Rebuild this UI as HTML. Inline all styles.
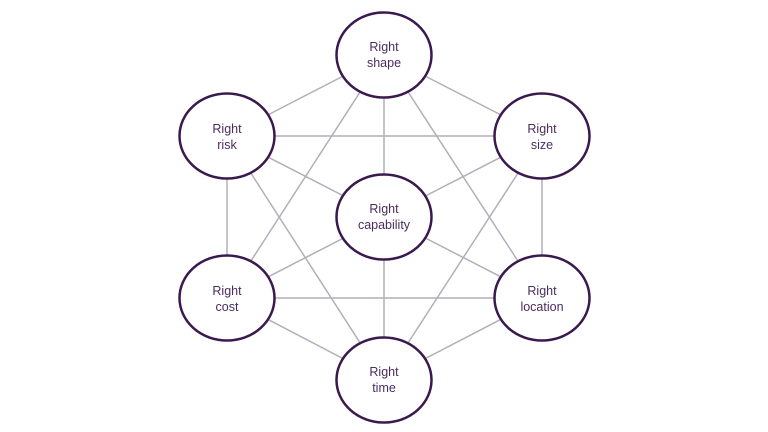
<!DOCTYPE html>
<html><head><style>body{margin:0;background:#fff}svg{display:block}</style></head><body>
<svg width="768" height="432" xmlns="http://www.w3.org/2000/svg">
<g stroke="#b3aebb" stroke-width="1.5">
<line x1="384" y1="55" x2="227" y2="136"/><line x1="384" y1="55" x2="542" y2="136"/>
<line x1="384" y1="55" x2="384" y2="380"/><line x1="384" y1="55" x2="227" y2="298"/>
<line x1="384" y1="55" x2="542" y2="298"/>
<line x1="227" y1="136" x2="542" y2="136"/><line x1="227" y1="136" x2="542" y2="298"/>
<line x1="227" y1="136" x2="227" y2="298"/><line x1="227" y1="136" x2="384" y2="380"/>
<line x1="542" y1="136" x2="227" y2="298"/><line x1="542" y1="136" x2="542" y2="298"/>
<line x1="542" y1="136" x2="384" y2="380"/>
<line x1="227" y1="298" x2="542" y2="298"/><line x1="227" y1="298" x2="384" y2="380"/>
<line x1="542" y1="298" x2="384" y2="380"/>
</g>
<g fill="#fff" stroke="#3a1a4e" stroke-width="2.5">
<ellipse cx="384" cy="55" rx="47.5" ry="42.5"/>
<ellipse cx="227" cy="136" rx="47.5" ry="42.5"/>
<ellipse cx="542" cy="136" rx="47.5" ry="42.5"/>
<ellipse cx="384" cy="217" rx="47.5" ry="42.5"/>
<ellipse cx="227" cy="298" rx="47.5" ry="42.5"/>
<ellipse cx="542" cy="298" rx="47.5" ry="42.5"/>
<ellipse cx="384" cy="380" rx="47.5" ry="42.5"/>
</g>
<g fill="#4a2d5e" font-family="Liberation Sans, sans-serif" font-size="12.5" text-anchor="middle">
<text x="384" y="51">Right</text><text x="384" y="67">shape</text>
<text x="227" y="133">Right</text><text x="227" y="149">risk</text>
<text x="542" y="133">Right</text><text x="542" y="149">size</text>
<text x="384" y="213">Right</text><text x="384" y="229">capability</text>
<text x="227" y="295">Right</text><text x="227" y="311">cost</text>
<text x="542" y="295">Right</text><text x="542" y="311">location</text>
<text x="384" y="376">Right</text><text x="384" y="392">time</text>
</g>
</svg>
</body></html>
